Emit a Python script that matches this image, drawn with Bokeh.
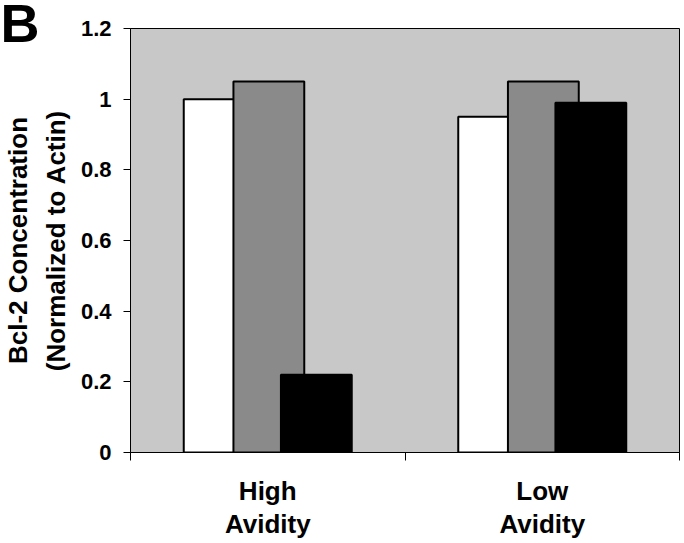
import numpy as np
from bokeh.plotting import figure
from bokeh.models import Range1d, FixedTicker, ColumnDataSource, Title, LinearAxis
from bokeh.embed import file_html
from bokeh.resources import INLINE

categories = ["High\nAvidity", "Low\nAvidity"]
series_white = [1.00, 0.95]
series_checker = [1.05, 1.05]
series_black = [0.22, 0.99]
y_ticks = [0, 0.2, 0.4, 0.6, 0.8, 1.0, 1.2]
y_tick_labels = ["0", "0.2", "0.4", "0.6", "0.8", "1", "1.2"]
y_title = ["Bcl-2 Concentration", "(Normalized to Actin)"]
panel_letter = "B"

FONT = "Liberation Sans"

p = figure(width=684, height=543, output_backend="svg", toolbar_location=None,
           x_range=Range1d(0, 2), y_range=Range1d(0, 1.2),
           min_border_left=129, min_border_top=28, min_border_right=5, min_border_bottom=91)
p.background_fill_color = "#c8c8c8"
p.border_fill_color = "white"
p.outline_line_color = "black"
p.outline_line_width = 1
p.grid.visible = False

centers = np.arange(len(categories)) + 0.5
offset = 0.177
bw = 0.258

src_w = ColumnDataSource(dict(x=centers - offset, top=series_white))
src_c = ColumnDataSource(dict(x=centers + 0.004, top=series_checker))
src_b = ColumnDataSource(dict(x=centers + offset, top=series_black))

p.vbar(x="x", top="top", bottom=0, width=bw, source=src_w,
       fill_color="white", line_color="black", line_width=2)
p.vbar(x="x", top="top", bottom=0, width=bw, source=src_c,
       fill_color="#8a8a8a", line_color="black", line_width=2)
p.vbar(x="x", top="top", bottom=0, width=bw, source=src_b,
       fill_color="black", line_color="black", line_width=2)

# x axis A: ticks at group boundaries, first label line
first_lines = [c.split("\n")[0] for c in categories]
second_lines = [c.split("\n")[1] for c in categories]
xa = p.xaxis[0]
xa.ticker = FixedTicker(ticks=list(centers), minor_ticks=[0, 1, 2])
xa.major_label_overrides = {float(c): t for c, t in zip(centers, first_lines)}
xa.major_tick_out = 0
xa.major_tick_in = 0
xa.minor_tick_out = 8
xa.minor_tick_in = 0
xa.minor_tick_line_color = "black"
xa.axis_line_color = "black"
xa.major_label_text_font = FONT
xa.major_label_text_font_style = "bold"
xa.major_label_text_font_size = "26px"
xa.major_label_text_color = "black"
xa.major_label_standoff = 15

xb = LinearAxis(ticker=FixedTicker(ticks=list(centers), minor_ticks=[]))
xb.major_label_overrides = {float(c): t for c, t in zip(centers, second_lines)}
xb.axis_line_color = None
xb.major_tick_line_color = None
xb.major_tick_out = 0
xb.major_tick_in = 0
xb.minor_tick_out = 0
xb.minor_tick_in = 0
xb.major_label_text_font = FONT
xb.major_label_text_font_style = "bold"
xb.major_label_text_font_size = "26px"
xb.major_label_text_color = "black"
xb.major_label_standoff = 0
p.add_layout(xb, "below")

# y axis
ya = p.yaxis[0]
ya.ticker = FixedTicker(ticks=y_ticks, minor_ticks=[])
ya.major_label_overrides = {t: lab for t, lab in zip(y_ticks, y_tick_labels)}
ya.major_tick_out = 7
ya.major_tick_in = 0
ya.minor_tick_out = 0
ya.minor_tick_in = 0
ya.axis_line_color = "black"
ya.major_tick_line_color = "black"
ya.major_label_text_font = FONT
ya.major_label_text_font_style = "bold"
ya.major_label_text_font_size = "22px"
ya.major_label_text_color = "black"
ya.major_label_standoff = 12

# y axis title as two titles in the left panel
for txt, so in [(y_title[1], 13), (y_title[0], 0)]:
    p.add_layout(Title(text=txt, align="center", standoff=so,
                       text_font=FONT, text_font_style="bold", text_font_size="26px",
                       text_color="black"), "left")

# panel letter
btitle = Title(text=panel_letter, align="left", offset=-130, vertical_align="middle",
               text_font=FONT, text_font_style="bold", text_font_size="54px",
               text_color="black")
btitle.standoff = -51
p.add_layout(btitle, "above")

open("out.html", "w").write(file_html(p, INLINE))
